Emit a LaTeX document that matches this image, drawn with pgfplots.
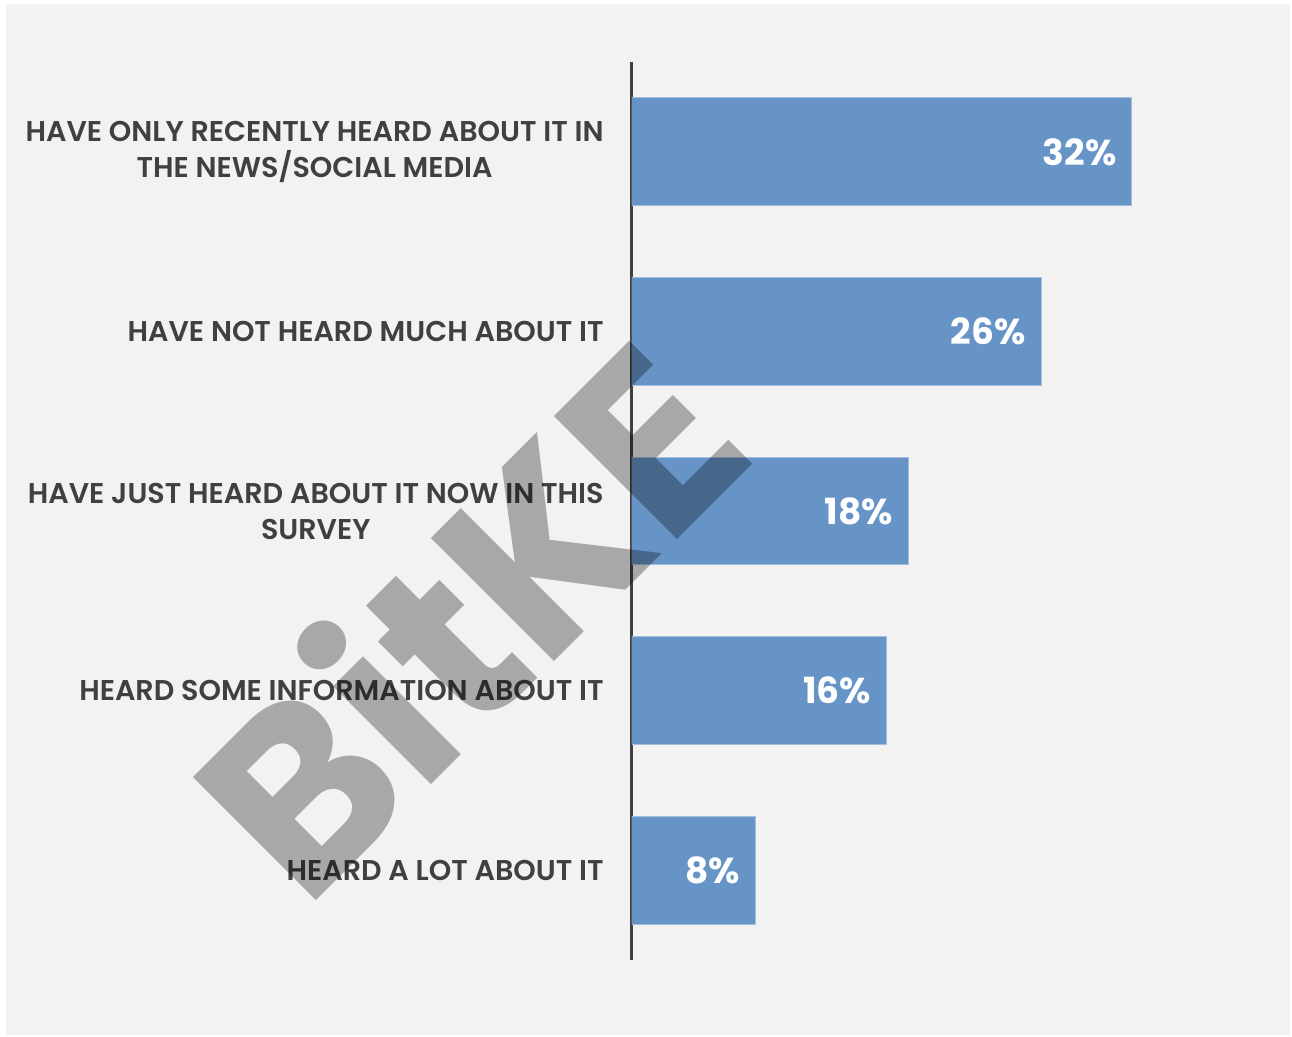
\documentclass[border=0pt]{standalone}
\usepackage{pgfplots}
\pgfplotsset{compat=1.18}
\usepackage{fontspec}
\setmainfont{Poppins}
\newfontfamily\semib{Poppins SemiBold}
\definecolor{bg}{HTML}{F2F2F2}
\definecolor{barc}{HTML}{6794C7}
\definecolor{bare}{HTML}{A3BFE0}
\definecolor{txt}{HTML}{404040}
\begin{document}
\begin{tikzpicture}[x=1pt,y=1pt]
\fill[white] (-316,-38.5) rectangle (330,480);
\fill[bg] (-313,-37.5) rectangle (329,478);
\begin{axis}[
  at={(0,0)}, anchor=south west,
  width=273.4pt, height=449pt, scale only axis,
  xbar, bar width=0.6,
  xmin=0, xmax=35, ymin=-0.5, ymax=4.5,
  axis x line=none, axis y line*=left,
  y axis line style={txt, line width=1.5pt},
  major tick length=0, xtick=\empty,
  ytick={0,1,2,3,4},
  yticklabels={HEARD A LOT ABOUT IT, HEARD SOME INFORMATION ABOUT IT, {HAVE JUST HEARD ABOUT IT NOW IN THIS\\SURVEY}, HAVE NOT HEARD MUCH ABOUT IT, {HAVE ONLY RECENTLY HEARD ABOUT IT IN\\THE NEWS/SOCIAL MEDIA}},
  yticklabel style={align=center, font=\semib\fontsize{14.3}{18}\selectfont, text=txt, inner sep=0pt, xshift=-14pt},
  point meta=explicit symbolic,
  nodes near coords={\pgfplotspointmeta\%},
  nodes near coords style={anchor=east, text=white, font=\bfseries\fontsize{18}{20}\selectfont, inner sep=0pt, xshift=-7.5pt},
]
\addplot[fill=barc, draw=bare, line width=0.5pt] coordinates {(7.9,0) [8] (16.3,1) [16] (17.7,2) [18] (26.2,3) [26] (32,4) [32]};
\end{axis}
\node[rotate=45, text=black, text opacity=0.3, font=\bfseries\fontsize{124}{124}\selectfont, inner sep=0pt] at (-84.5,173.5) {BitKE};
\end{tikzpicture}
\end{document}
